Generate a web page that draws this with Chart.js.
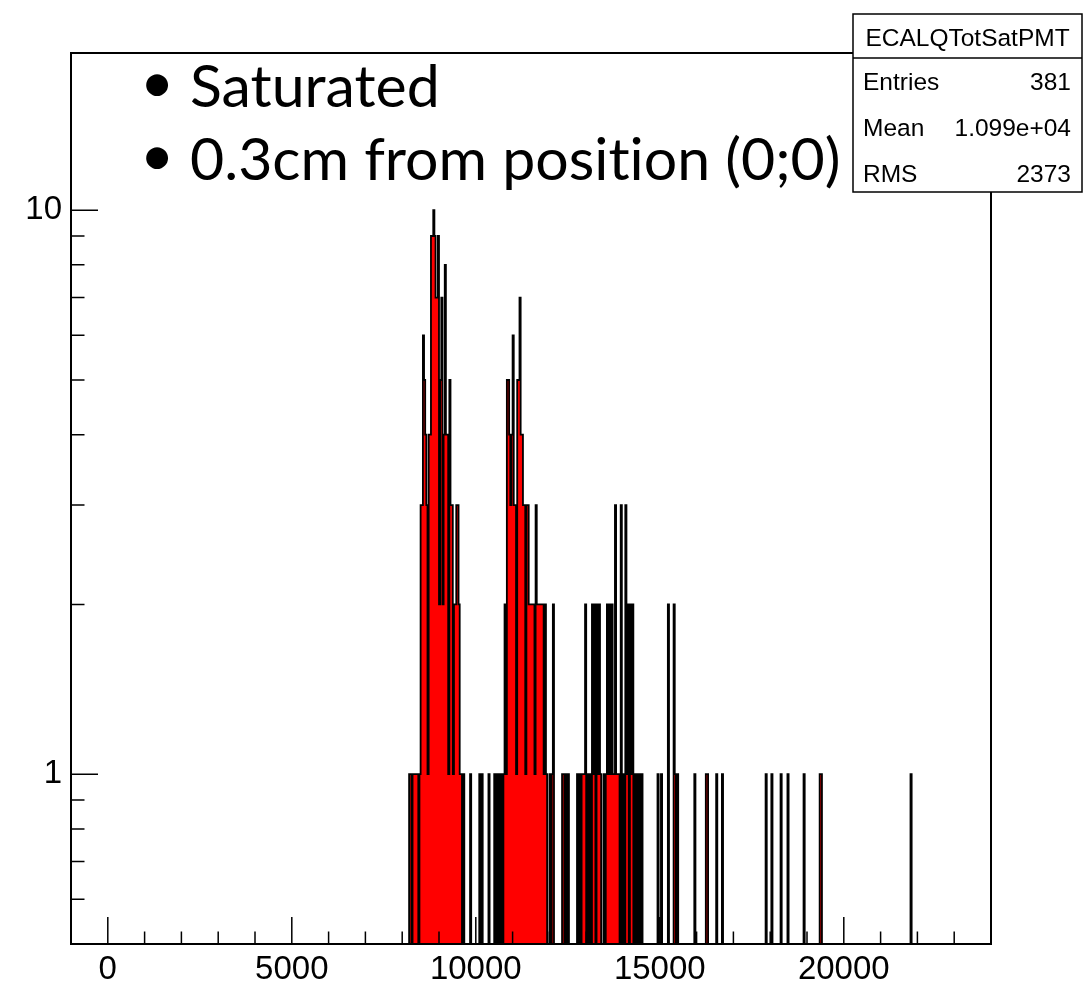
<!DOCTYPE html>
<html>
<head>
<meta charset="utf-8">
<title>ECALQTotSatPMT</title>
<script src="https://cdn.jsdelivr.net/npm/chart.js@4.4.1/dist/chart.umd.min.js"></script>
<style>
  html, body { margin: 0; padding: 0; background: #fff; }
  #wrap { position: relative; width: 1092px; height: 986px; }
</style>
</head>
<body>
<div id="wrap"><canvas id="histo" width="1092" height="986"></canvas></div>
<script>
// ECALQTotSatPMT, 800 bins of 31.25 between -1000 and 24000, log y
const histName = 'ECALQTotSatPMT';
const xMin = -1000, xMax = 24000, binWidth = 31.25;
const yMin = 0.5, yMax = 19;

// consecutive bins of the peaks, first low edge at 8093.75
const peakStart = 8093.75;
const peakCounts = [
  0, 0, 0, 1, 1, 0, 1, 1, 1, 1, 1, 0, 1,
  3, 3, 6, 5, 4, 3, 1, 4, 4,
  9, 9, 10, 9, 7, 7, 9, 2, 5, 7,
  2, 4, 8, 4, 4, 1, 5, 3, 3, 1,
  2, 2, 3, 3, 2, 1, 1, 0, 1, 0,
  0, 0, 0, 0, 1, 0, 0, 0, 0, 0, 0, 0, 1, 0, 1, 0,
  0, 0, 0, 0, 1, 0, 0, 0, 0, 1, 0, 1, 0, 1, 0, 1, 0, 1, 2, 1,
  5, 5, 4, 3, 4, 6, 3, 3, 1, 5, 5, 7, 4, 4, 3,
  3, 1, 3, 3, 2, 2, 2, 2, 2, 1, 3, 2, 2, 2, 2, 2, 2, 1, 2,
  1, 0, 0, 1, 0, 1, 2, 0,
  0, 0, 0, 0, 0, 0,
  1, 1, 0, 1, 0, 1, 0,
  0, 0, 0, 0, 0, 0,
  1, 0, 1, 0, 1, 1, 1, 2, 0, 1,
  0, 1, 0, 2, 1, 2, 0, 2, 1, 2,
  1, 0, 0, 1, 0, 1, 2, 1, 2, 1,
  2, 1, 1, 3, 1, 1, 1, 0, 3, 0,
  1, 0, 3, 1, 2, 0, 2, 1, 2, 0,
  1, 0, 1, 0, 1, 0, 1, 0
];

// single bins further out (low edge, count)
const tailLow = [14937.5, 15031.25, 15218.75, 15375, 15406.25, 15468.75, 15937.5,
  16250, 16281.25, 16531.25, 16687.5, 17875, 18031.25, 18281.25, 18468.75,
  18906.25, 19343.75, 19375, 21812.5];
const tailCounts = [1, 1, 2, 2, 1, 1, 1, 1, 1, 1, 1, 1, 1, 1, 1, 1, 1, 1, 1];

const statLabels = ['Entries', 'Mean', 'RMS'];
const statValues = ['381', '1.099e+04', '2373'];

const xLabelTicks = [0, 5000, 10000, 15000, 20000];
const xMinorStep = 1000;
const yLabelTicks = [1, 10];
const yMinorTicks = [0.6, 0.7, 0.8, 0.9, 2, 3, 4, 5, 6, 7, 8, 9];

// ZWNJ keeps Lato from joining the "ti" pair
const bulletLines = ['Saturated', '0.3cm from posit\u200Cion (0;0)'];

// fill the full binning, then turn it into step points at the low edges
const nBins = Math.round((xMax - xMin) / binWidth);
const counts = new Array(nBins).fill(0);
const firstPeakBin = Math.round((peakStart - xMin) / binWidth);
peakCounts.forEach((c, i) => { counts[firstPeakBin + i] = c; });
tailLow.forEach((lo, i) => { counts[Math.round((lo - xMin) / binWidth)] += tailCounts[i]; });
// empty bins can't sit on a log axis: park them under the frame so the
// contour still drops down to the bottom edge
const emptyLevel = yMin / 3;
const points = counts.map((c, i) => ({ x: xMin + i * binWidth, y: c > 0 ? c : emptyLevel }));
points.push({ x: xMax, y: emptyLevel });

const axisFont = { family: 'Liberation Sans', size: 33 };

// frame and inward ticks like a ROOT pad
const rootFrame = {
  id: 'rootFrame',
  afterDatasetsDraw(chart) {
    const { ctx, chartArea: a, scales: { x, y } } = chart;
    ctx.save();
    ctx.strokeStyle = '#000';
    ctx.lineWidth = 1.5;
    ctx.beginPath();
    for (let v = xMin; v <= xMax; v += xMinorStep) {
      const px = x.getPixelForValue(v);
      const len = xLabelTicks.includes(v) ? 27 : 12.5;
      ctx.moveTo(px, a.bottom);
      ctx.lineTo(px, a.bottom - len);
    }
    yLabelTicks.forEach(v => {
      const py = y.getPixelForValue(v);
      ctx.moveTo(a.left, py);
      ctx.lineTo(a.left + 27, py);
    });
    yMinorTicks.forEach(v => {
      const py = y.getPixelForValue(v);
      ctx.moveTo(a.left, py);
      ctx.lineTo(a.left + 13.5, py);
    });
    ctx.stroke();
    ctx.lineWidth = 2;
    ctx.strokeRect(a.left, a.top, a.right - a.left, a.bottom - a.top);
    ctx.restore();
  },
  afterDraw(chart) {
    const ctx = chart.ctx;
    ctx.save();

    // stats box
    const bx = 853, by = 14, bw = 229, bh = 178;
    ctx.fillStyle = '#fff';
    ctx.fillRect(bx, by, bw, bh);
    ctx.strokeStyle = '#000';
    ctx.lineWidth = 1.5;
    ctx.strokeRect(bx, by, bw, bh);
    ctx.beginPath();
    ctx.moveTo(bx, 58);
    ctx.lineTo(bx + bw, 58);
    ctx.stroke();
    ctx.fillStyle = '#000';
    ctx.font = '24.5px "Liberation Sans"';
    ctx.textBaseline = 'middle';
    ctx.textAlign = 'center';
    ctx.fillText(histName, bx + bw / 2, 39);
    const rowY = [83, 129, 175];
    statLabels.forEach((lab, i) => {
      ctx.textAlign = 'left';
      ctx.fillText(lab, 863, rowY[i]);
      ctx.textAlign = 'right';
      ctx.fillText(statValues[i], 1071, rowY[i]);
    });

    // bullet notes
    ctx.font = '59px Lato';
    ctx.textBaseline = 'alphabetic';
    const lineY = [107, 180];
    const bulletY = [85, 158];
    bulletLines.forEach((txt, i) => {
      ctx.textAlign = 'left';
      ctx.fillText(txt, 190, lineY[i]);
      const m = ctx.measureText('\u2022');
      ctx.textAlign = 'center';
      ctx.fillText('\u2022', 157, bulletY[i] + (m.actualBoundingBoxAscent - m.actualBoundingBoxDescent) / 2);
    });
    ctx.restore();
  }
};

new Chart(document.getElementById('histo'), {
  type: 'line',
  data: {
    datasets: [{
      data: points,
      stepped: true,
      fill: 'start',
      backgroundColor: '#ff0000',
      borderColor: '#000',
      borderWidth: 1.8,
      pointRadius: 0,
      tension: 0
    }]
  },
  options: {
    responsive: false,
    animation: false,
    events: [],
    layout: { padding: { top: 53, right: 101, left: 0, bottom: 0 } },
    plugins: { legend: { display: false }, tooltip: { enabled: false } },
    scales: {
      x: {
        type: 'linear',
        min: xMin,
        max: xMax,
        grid: { display: false, drawTicks: false },
        border: { display: false },
        afterBuildTicks: s => { s.ticks = xLabelTicks.map(v => ({ value: v })); },
        afterFit: s => { s.height = 42; },
        ticks: {
          font: axisFont, color: '#000', padding: 6,
          maxRotation: 0, autoSkip: false,
          callback: v => String(v)
        }
      },
      y: {
        type: 'logarithmic',
        min: yMin,
        max: yMax,
        grid: { display: false, drawTicks: false },
        border: { display: false },
        afterBuildTicks: s => { s.ticks = yLabelTicks.map(v => ({ value: v })); },
        afterFit: s => { s.width = 71; },
        ticks: {
          font: axisFont, color: '#000', padding: 9,
          callback: v => String(v)
        }
      }
    }
  },
  plugins: [rootFrame]
});
</script>
</body>
</html>
